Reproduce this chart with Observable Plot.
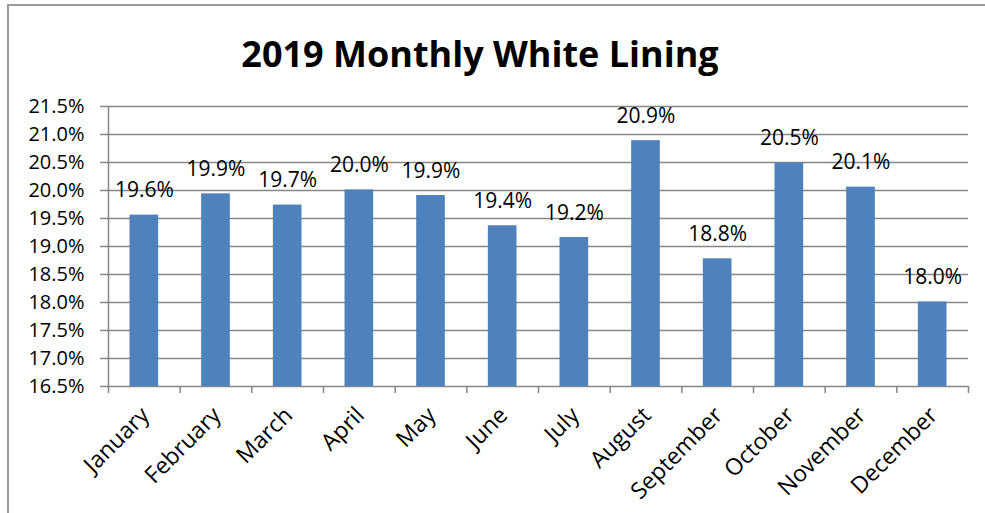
<!DOCTYPE html>
<html>
<head>
<meta charset="utf-8">
<script src="https://cdn.jsdelivr.net/npm/d3@7"></script>
<script src="https://cdn.jsdelivr.net/npm/@observablehq/plot@0.6"></script>
<style>
  html, body { margin: 0; padding: 0; background: #fff; }
  #wrap { position: relative; width: 985px; height: 513px; overflow: hidden; font-family: "Open Sans", sans-serif; }
  #frame { position: absolute; left: 7px; top: 4px; width: 990px; height: 520px; border-top: 2px solid #9a9a9a; border-left: 2px solid #9a9a9a; box-sizing: border-box; }
  #title { position: absolute; left: 0; width: 960px; top: 29px; text-align: center; font-family: "Open Sans", sans-serif; font-weight: 700; font-size: 36px; line-height: 50px; color: #000; z-index: 2; }
  #chart { position: absolute; left: 0; top: 0; }
</style>
</head>
<body>
<div id="wrap">
  <div id="frame"></div>
  <div id="title">2019 Monthly White Lining</div>
  <div id="chart"></div>
</div>
<script>
const months = ["January", "February", "March", "April", "May", "June", "July", "August", "September", "October", "November", "December"];
const values = [19.56, 19.94, 19.74, 20.01, 19.91, 19.37, 19.16, 20.89, 18.78, 20.49, 20.06, 18.01];
const yTicks = [16.5, 17.0, 17.5, 18.0, 18.5, 19.0, 19.5, 20.0, 20.5, 21.0, 21.5];

const data = months.map((m, i) => ({month: m, i, value: values[i]}));
const boundaries = d3.range(0, months.length + 1);
const gray = "#878787";
const fmt = d => d.toFixed(1) + "%";

const chart = Plot.plot({
  width: 985,
  height: 513,
  marginTop: 106,
  marginBottom: 127,
  marginLeft: 108,
  marginRight: 17,
  style: {fontFamily: "Open Sans, sans-serif", fontSize: "20px", color: "#000", background: "transparent"},
  x: {type: "linear", domain: [0, months.length], axis: null},
  y: {domain: [yTicks[0], yTicks[yTicks.length - 1]], axis: null},
  marks: [
    Plot.ruleY(yTicks, {stroke: gray, strokeWidth: 1.5}),
    Plot.rect(data, {x1: "i", x2: d => d.i + 1, y1: yTicks[0], y2: "value", fill: "#4F81BD", insetLeft: 21.5, insetRight: 21.5}),
    Plot.ruleX([0], {y1: yTicks[0], y2: yTicks[yTicks.length - 1], stroke: gray, strokeWidth: 1.5}),
    Plot.axisY({ticks: yTicks, tickSize: 8, tickPadding: 16, tickFormat: fmt, stroke: gray, strokeWidth: 1.5, fill: "#000", fontSize: 20, label: null}),
    Plot.axisX({ticks: boundaries, tickSize: 7, tickFormat: () => "", stroke: gray, strokeWidth: 1.5, label: null}),
    Plot.text(data, {x: d => d.i + 0.5, y: yTicks[0], text: "month", rotate: -45, textAnchor: "end", dx: 1, dy: 25, fontSize: 23, fill: "#000"}),
    Plot.text(data, {x: d => d.i + 0.5, y: "value", text: d => fmt(d.value), lineAnchor: "bottom", dy: -18, fontSize: 21, fill: "#000"})
  ]
});
document.getElementById("chart").appendChild(chart);
</script>
</body>
</html>
